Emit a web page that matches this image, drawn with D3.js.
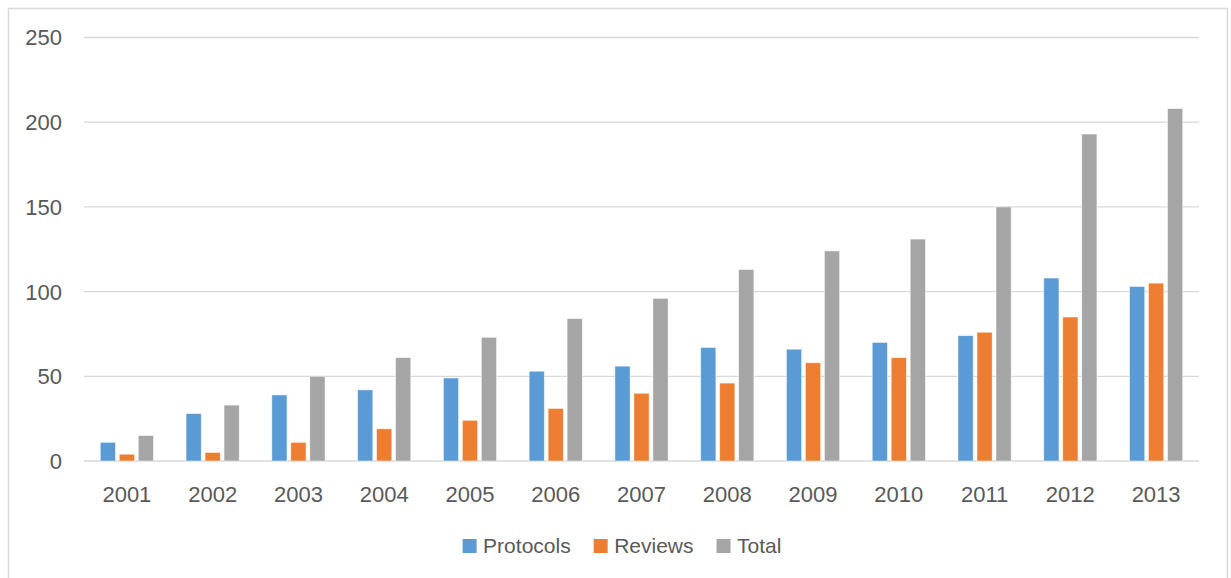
<!DOCTYPE html>
<html>
<head>
<meta charset="utf-8">
<script src="https://cdn.jsdelivr.net/npm/d3@7"></script>
<style>
  body { margin: 0; background: #fff; }
  svg text { font-family: "Liberation Sans", Arial, sans-serif; fill: #595959; }
</style>
</head>
<body>
<div id="chart"></div>
<script>
// Data
const years = ["2001", "2002", "2003", "2004", "2005", "2006", "2007", "2008", "2009", "2010", "2011", "2012", "2013"];
const protocols = [11, 28, 39, 42, 49, 53, 56, 67, 66, 70, 74, 108, 103];
const reviews = [4, 5, 11, 19, 24, 31, 40, 46, 58, 61, 76, 85, 105];
const totals = [15, 33, 50, 61, 73, 84, 96, 113, 124, 131, 150, 193, 208];
const seriesNames = ["Protocols", "Reviews", "Total"];
const yTicks = [0, 50, 100, 150, 200, 250];

const width = 1231, height = 578;
const margin = { top: 37.5, right: 32, bottom: 117, left: 84 };

const svg = d3.select("#chart").append("svg")
  .attr("width", width)
  .attr("height", height);

// Chart area border
svg.append("rect")
  .attr("x", 8.5).attr("y", 8.5)
  .attr("width", 1219).attr("height", 580)
  .attr("fill", "none")
  .attr("stroke", "#d9d9d9")
  .attr("stroke-width", 1.5);

const color = d3.scaleOrdinal()
  .domain(seriesNames)
  .range(["#5b9bd5", "#ed7d31", "#a5a5a5"]);

const rows = years.map((y, i) => ({
  year: y,
  Protocols: protocols[i],
  Reviews: reviews[i],
  Total: totals[i]
}));

// Scales
const x0 = d3.scaleBand()
  .domain(years)
  .range([margin.left, width - margin.right])
  .paddingInner(0.38)
  .paddingOuter(0.19);

const x1 = d3.scaleBand()
  .domain(seriesNames)
  .range([0, x0.bandwidth()])
  .paddingInner(0.2);

const y = d3.scaleLinear()
  .domain([0, 250])
  .range([height - margin.bottom, margin.top]);

// Gridlines
svg.append("g")
  .selectAll("line")
  .data(yTicks)
  .join("line")
  .attr("x1", margin.left)
  .attr("x2", width - margin.right)
  .attr("y1", d => y(d))
  .attr("y2", d => y(d))
  .attr("stroke", "#d9d9d9")
  .attr("stroke-width", 1.3);

// Y axis labels
svg.append("g")
  .selectAll("text")
  .data(yTicks)
  .join("text")
  .attr("x", 62)
  .attr("y", d => y(d))
  .attr("dy", "0.36em")
  .attr("text-anchor", "end")
  .style("font-size", "22px")
  .text(d => d);

// X axis labels
svg.append("g")
  .selectAll("text")
  .data(years)
  .join("text")
  .attr("x", d => x0(d) + x0.bandwidth() / 2)
  .attr("y", 501.5)
  .attr("text-anchor", "middle")
  .style("font-size", "22px")
  .text(d => d);

// Bars
svg.append("g")
  .selectAll("g")
  .data(rows)
  .join("g")
  .attr("transform", d => `translate(${x0(d.year)},0)`)
  .selectAll("rect")
  .data(d => seriesNames.map(k => ({ key: k, value: d[k] })))
  .join("rect")
  .attr("x", d => x1(d.key))
  .attr("y", d => y(d.value))
  .attr("width", x1.bandwidth())
  .attr("height", d => y(0) - y(d.value))
  .attr("fill", d => color(d.key))
  .attr("stroke", "#fff")
  .attr("stroke-opacity", 0.6)
  .attr("stroke-width", 0.8);

// Legend
const legend = svg.append("g");
const items = legend.selectAll("g")
  .data(seriesNames)
  .join("g");

items.append("rect")
  .attr("width", 14)
  .attr("height", 14)
  .attr("y", 539)
  .attr("fill", d => color(d));

items.append("text")
  .attr("x", 20.5)
  .attr("y", 553)
  .style("font-size", "21px")
  .text(d => d);

// Position legend items side by side, centered
let offset = 0;
const gap = 23;
items.each(function() {
  const w = this.getBBox().width;
  d3.select(this).attr("data-w", w);
});
items.attr("transform", function() {
  const w = +d3.select(this).attr("data-w");
  const t = `translate(${offset},0)`;
  offset += w + gap;
  return t;
});
const totalW = offset - gap;
legend.attr("transform", `translate(${622 - totalW / 2},0)`);
</script>
</body>
</html>
